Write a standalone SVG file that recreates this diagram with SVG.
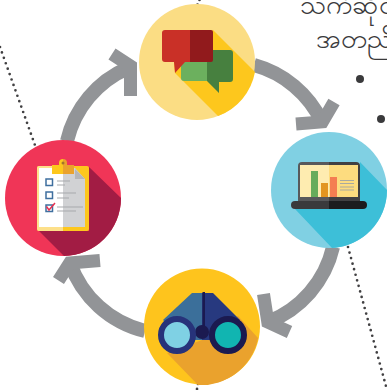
<svg xmlns="http://www.w3.org/2000/svg" width="387" height="390" viewBox="0 0 387 390">
<style>
.arc{fill:none;stroke:#929497;stroke-width:14}
.head{fill:none;stroke:#929497;stroke-width:13;stroke-miterlimit:6}
.dot{fill:none;stroke:#414042;stroke-width:2.700;stroke-linecap:round;stroke-dasharray:0 5.750}
.t{font-family:"Noto Sans","DejaVu Sans","Liberation Sans",sans-serif;font-size:27px;fill:#3a3a3c}
</style>
<rect width="387" height="390" fill="#fff"/>
<g id="dotted-lines">
<path class="dot" d="M0 47L36 148"/>
<path class="dot" d="M199.500 0L197.500 4.500" style="stroke-dasharray:0 4.900"/>
<path class="dot" d="M198 384L197 389" style="stroke-dasharray:0 5"/>
<path class="dot" d="M348 247L386.500 388"/>
</g>
<g id="connectors">
<path class="arc" d="M67 141A106 106 0 0 1 128 68"/>
<path class="head" d="M112 54L130.500 66L130.500 96"/>
<path class="arc" d="M254 65A106 106 0 0 1 322 122"/>
<path class="head" d="M296 124L322.400 121.900L334 102"/>
<path class="arc" d="M333 247A106 106 0 0 1 268 322"/>
<path class="head" d="M289.500 332L267.800 322.100L263.500 294"/>
<path class="arc" d="M145 331A106 106 0 0 1 70 263"/>
<path class="head" d="M58.500 280.500L69.700 263L100 260.500"/>
</g>
<g id="node-chat">
<circle cx="197" cy="62" r="58" fill="#fbdd84"/>
<path d="M213 30L255 72A58 58 0 0 1 218 116L175 73L174 62Z" fill="#fdc71d"/>
<path d="M181 62H207V81H184Q181 81 181 78Z" fill="#6cb05e"/>
<path d="M207 50H230Q233 50 233 53V79Q233 82 230 82H219V93L207 81Z" fill="#47803f"/>
<path d="M165 30H190V62H185L175 73L174 62H165Q162 62 162 59V33Q162 30 165 30Z" fill="#c93027"/>
<path d="M190 30H211Q213 30 213 32V60Q213 62 211 62H190Z" fill="#911a1c"/>
</g>
<g id="node-laptop">
<circle cx="329" cy="190" r="58" fill="#80d0e3"/>
<path d="M360 162L387 190A58 58 0 0 1 332 248L295 209H360Z" fill="#3dbfd8"/>
<path d="M329 162H302Q298 162 298 166V201H329Z" fill="#58595b"/>
<path d="M329 162H356Q360 162 360 166V201H329Z" fill="#414042"/>
<rect x="300" y="165" width="29" height="32" fill="#feecb0"/>
<rect x="329" y="165" width="29" height="32" fill="#fddc7f"/>
<rect x="311" y="171" width="7" height="26" fill="#67ac5b"/>
<rect x="321" y="183" width="7" height="14" fill="#e29520"/>
<rect x="330" y="177" width="7" height="20" fill="#f47e52"/>
<path d="M340 180.500H354M340 183.500H354M340 187H354M340 190H354" stroke="#a9a9a0" stroke-width="1"/>
<path d="M329 201H295a4 4 0 0 0 0 8H329Z" fill="#3a3a3c"/>
<path d="M329 201H363a4 4 0 0 1 0 8H329Z" fill="#1c1c1e"/>
</g>
<g id="node-binoculars">
<circle cx="202" cy="326.500" r="58" fill="#fec41d"/>
<path d="M167 353L198 385A58 58 0 0 0 258 338L238 316L202 340Z" fill="#eaa22d"/>
<path d="M192 293H202V340H185L163 320Z" fill="#3b6f9a"/>
<path d="M202 293H213L240 320L220 340H202Z" fill="#27397f"/>
<rect x="202.500" y="292" width="2.500" height="40" fill="#1b1a50"/>
<circle cx="202" cy="332" r="7" fill="#1b1a50"/>
<circle cx="177" cy="335" r="16" fill="#7fd1e4" stroke="#27337a" stroke-width="6"/>
<circle cx="228" cy="335" r="16" fill="#11b5b1" stroke="#1b1a50" stroke-width="6"/>
</g>
<g id="node-clipboard">
<circle cx="63" cy="198" r="58" fill="#f03557"/>
<path d="M89 167L121 198A58 58 0 0 1 64 256L39 231H89Z" fill="#a21c44"/>
<rect x="37" y="166" width="52" height="65" rx="2" fill="#fdc71d"/>
<path d="M63 166H39Q37 166 37 168V229Q37 231 39 231H63Z" fill="#fde08a"/>
<rect x="39" y="168" width="24" height="59" fill="#fff"/>
<path d="M63 168H75L85 179V227H63Z" fill="#d1d2d4"/>
<path d="M75 169L85 179H75Z" fill="#b5b6b8"/>
<path d="M52 165H59V163a4 4 0 0 1 4 -4V174H52Z" fill="#fdc71d"/>
<path d="M63 159a4 4 0 0 1 4 4V165H74V174H63Z" fill="#eaa22d"/>
<circle cx="63" cy="163" r="1.500" fill="#a2752a"/>
<g fill="#fff" stroke="#3f6f9f" stroke-width="1.500">
<rect x="46" y="179" width="6.500" height="6.500"/>
<rect x="46" y="192" width="6.500" height="6.500"/>
<rect x="46" y="205" width="6.500" height="6.500"/>
</g>
<path d="M46.500 206.500L49 210L55 203" fill="none" stroke="#e8304f" stroke-width="1.500"/>
<path d="M57 181H70M57 185H65M57 193H76M57 198H69M57 207H83M57 211H76" stroke="#a7a9ac" stroke-width="1"/>
</g>
<g id="caption">
<text class="t" x="300" y="14">သက်ဆိုင်</text>
<text class="t" x="316" y="48">အတည်ပြု</text>
<circle cx="360" cy="79" r="4" fill="#3a3a3c"/>
<circle cx="381" cy="119" r="4" fill="#3a3a3c"/>
</g>
</svg>
